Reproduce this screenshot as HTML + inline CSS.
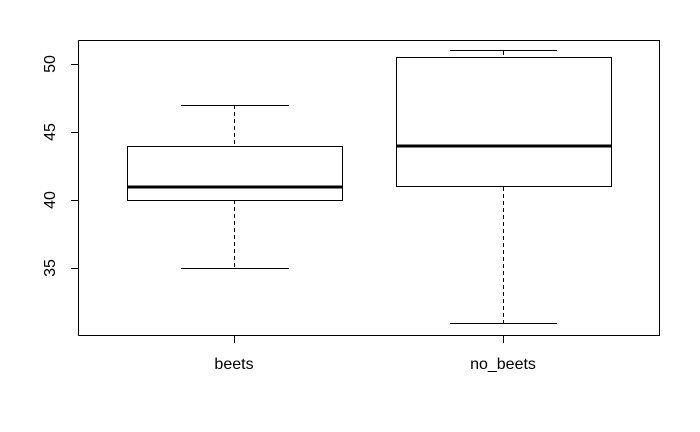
<!DOCTYPE html>
<html><head><style>body{margin:0;background:#fff}svg{display:block}</style></head>
<body>
<svg width="700" height="432" xmlns="http://www.w3.org/2000/svg" font-family="Liberation Sans, Arial, sans-serif" font-size="16">
<rect x="0" y="0" width="700" height="432" fill="#fff"/>
<rect x="78.5" y="40.5" width="581" height="295" fill="none" stroke="#000" stroke-width="1"/>
<line x1="234.5" y1="105" x2="234.5" y2="146" stroke="#000" stroke-dasharray="4,3"/>
<line x1="234.5" y1="200" x2="234.5" y2="268" stroke="#000" stroke-dasharray="4,3"/>
<line x1="181" y1="105.5" x2="289" y2="105.5" stroke="#000"/>
<line x1="181" y1="268.5" x2="289" y2="268.5" stroke="#000"/>
<rect x="127.5" y="146.5" width="215" height="54" fill="none" stroke="#000"/>
<line x1="127" y1="187" x2="343" y2="187" stroke="#000" stroke-width="3"/>
<line x1="503.5" y1="51" x2="503.5" y2="57" stroke="#000" stroke-dasharray="4,3"/>
<line x1="503.5" y1="187" x2="503.5" y2="323" stroke="#000" stroke-dasharray="4,3"/>
<line x1="450" y1="50.5" x2="557" y2="50.5" stroke="#000"/>
<line x1="450" y1="323.5" x2="557" y2="323.5" stroke="#000"/>
<rect x="396.5" y="57.5" width="215" height="129" fill="none" stroke="#000"/>
<line x1="396" y1="146" x2="612" y2="146" stroke="#000" stroke-width="3"/>
<g stroke="#000">
<line x1="71" y1="64.5" x2="78" y2="64.5"/>
<line x1="71" y1="132.5" x2="78" y2="132.5"/>
<line x1="71" y1="200.5" x2="78" y2="200.5"/>
<line x1="71" y1="268.5" x2="78" y2="268.5"/>
<line x1="234.5" y1="336" x2="234.5" y2="343"/>
<line x1="503.5" y1="336" x2="503.5" y2="343"/>
</g>
<g text-anchor="middle">
<text transform="translate(55,64) rotate(-90)">50</text>
<text transform="translate(55,132) rotate(-90)">45</text>
<text transform="translate(55,200) rotate(-90)">40</text>
<text transform="translate(55,268) rotate(-90)">35</text>
<text x="234" y="369">beets</text>
<text x="503" y="369">no_beets</text>
</g>
</svg>
</body></html>
